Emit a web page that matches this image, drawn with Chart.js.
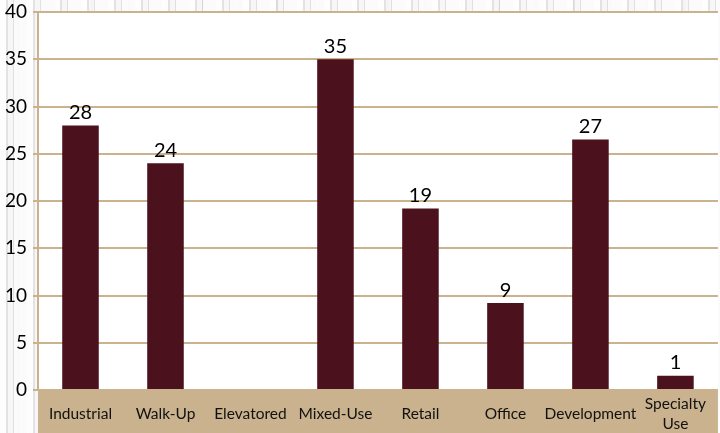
<!DOCTYPE html>
<html>
<head>
<meta charset="utf-8">
<script src="https://cdn.jsdelivr.net/npm/chart.js@4/dist/chart.umd.min.js"></script>
<style>
  html, body { margin: 0; padding: 0; }
  body {
    width: 720px; height: 433px; overflow: hidden;
    background-color: #f1f1f1;
    background-image:
      repeating-linear-gradient(90deg, rgba(255,255,255,0.9) 0 6px, rgba(215,215,215,0.55) 6px 8px, rgba(248,248,248,0.8) 8px 13px, rgba(200,200,200,0.4) 13px 14px, rgba(252,252,252,0.9) 14px 27px),
      repeating-linear-gradient(90deg, rgba(0,0,0,0) 0 17px, rgba(180,180,180,0.3) 17px 19px, rgba(0,0,0,0) 19px 37px);
  }
  #wrap { position: relative; width: 720px; height: 433px; }
</style>
</head>
<body>
<div id="wrap"><canvas id="chart"></canvas></div>
<script>
const categories = ['Industrial', 'Walk-Up', 'Elevatored', 'Mixed-Use', 'Retail', 'Office', 'Development', ['Specialty', 'Use']];
const counts = [28, 24, null, 35, 19.2, 9.2, 26.5, 1.5];
const countLabels = ['28', '24', '', '35', '19', '9', '27', '1'];
const yMin = 0;
const yMax = 40;
const yStep = 5;

const tan = '#c9b28d';
const maroon = '#4b121e';
const fontFamily = "Lato, 'Open Sans', sans-serif";

// white plot area + tan band under the axis
const panels = {
  id: 'panels',
  beforeDraw(chart) {
    const { ctx, chartArea: a } = chart;
    ctx.save();
    ctx.fillStyle = '#ffffff';
    ctx.fillRect(a.left, a.top, a.right - a.left, a.bottom - a.top);
    ctx.fillStyle = tan;
    ctx.fillRect(a.left, a.bottom, a.right - a.left, chart.height - a.bottom);
    ctx.restore();
  }
};

// numbers above the bars
const valueLabels = {
  id: 'valueLabels',
  afterDatasetsDraw(chart) {
    const ctx = chart.ctx;
    const meta = chart.getDatasetMeta(0);
    ctx.save();
    ctx.font = '20px ' + fontFamily;
    ctx.fillStyle = '#000000';
    ctx.textAlign = 'center';
    ctx.textBaseline = 'bottom';
    meta.data.forEach((bar, i) => {
      if (!countLabels[i] || !isFinite(bar.y)) return;
      ctx.fillText(countLabels[i], bar.x, bar.y - 3);
    });
    ctx.restore();
  }
};

new Chart(document.getElementById('chart'), {
  type: 'bar',
  data: {
    labels: categories,
    datasets: [{
      data: counts,
      backgroundColor: maroon,
      borderWidth: 0,
      barPercentage: 0.43,
      categoryPercentage: 1
    }]
  },
  options: {
    responsive: true,
    maintainAspectRatio: false,
    animation: false,
    layout: { padding: { top: 12, right: 0, bottom: 0, left: 0 } },
    plugins: {
      legend: { display: false },
      tooltip: { enabled: false }
    },
    scales: {
      x: {
        grid: { display: false, drawTicks: false },
        border: { display: false },
        ticks: {
          autoSkip: false,
          maxRotation: 0,
          padding: 14,
          crossAlign: 'center',
          color: '#111111',
          font: { family: fontFamily, size: 15.5, lineHeight: 1.3 }
        },
        afterFit(scale) { scale.height = 43; }
      },
      y: {
        min: yMin,
        max: yMax,
        grid: { color: tan, lineWidth: 2, tickLength: 5 },
        border: { color: tan, width: 2 },
        ticks: {
          stepSize: yStep,
          padding: 6,
          color: '#000000',
          font: { family: fontFamily, size: 19 }
        },
        afterFit(scale) {
          scale.width = 38;
          scale.paddingTop = 0;
          scale.paddingBottom = 0;
        }
      }
    }
  },
  plugins: [panels, valueLabels]
});
</script>
</body>
</html>
